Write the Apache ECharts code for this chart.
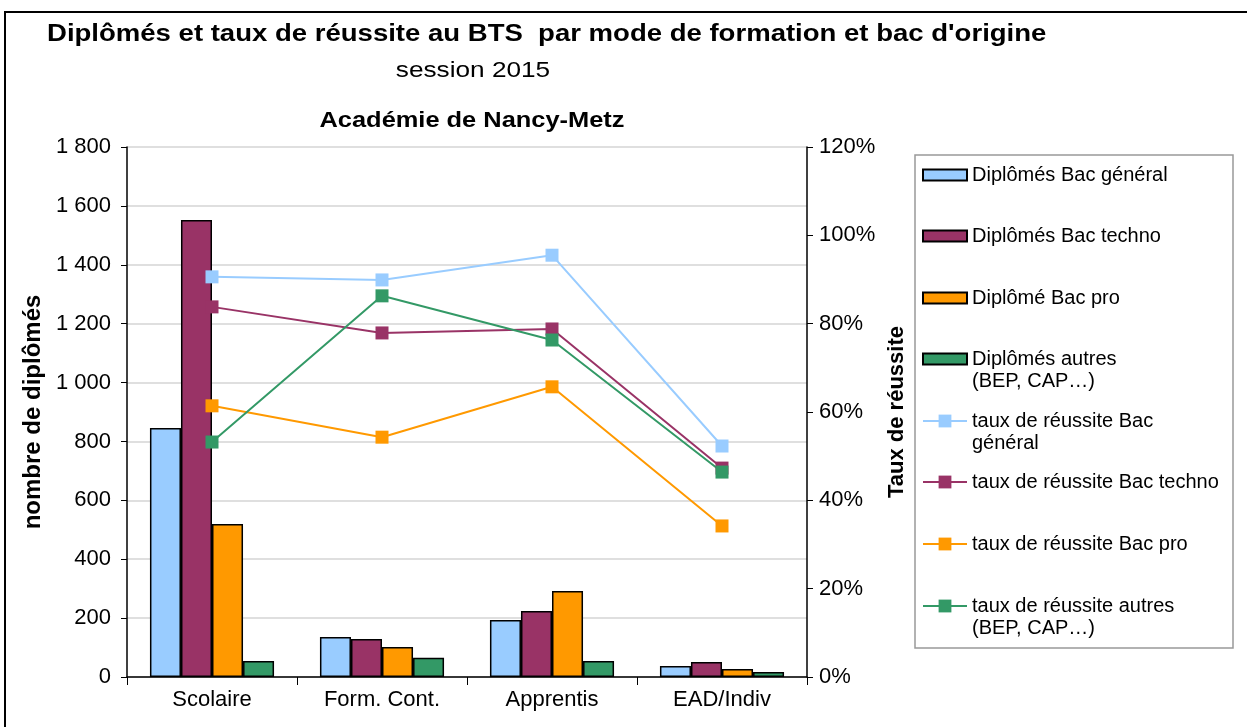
<!DOCTYPE html>
<html>
<head>
<meta charset="utf-8">
<script src="https://cdn.jsdelivr.net/npm/echarts@6/dist/echarts.min.js"></script>
<style>
  html, body { margin: 0; padding: 0; background: #fff; }
  #main { width: 1247px; height: 727px; }
</style>
</head>
<body>
<div id="main"></div>
<script>
var categories = ['Scolaire', 'Form. Cont.', 'Apprentis', 'EAD/Indiv'];

// nombre de diplômés
var diplBacGeneral = [846, 136, 194, 37];
var diplBacTechno = [1552, 129, 224, 51];
var diplBacPro = [520, 102, 292, 27];
var diplAutres = [54, 65, 54, 17];

// taux de réussite (%)
var tauxBacGeneral = [90.6, 89.9, 95.5, 52.3];
var tauxBacTechno = [83.8, 77.9, 78.8, 47.3];
var tauxBacPro = [61.4, 54.3, 65.7, 34.2];
var tauxAutres = [53.2, 86.3, 76.3, 46.4];

var barNames = ['Diplômés Bac général', 'Diplômés Bac techno', 'Diplômé Bac pro', 'Diplômés autres\n(BEP, CAP…)'];
var lineNames = ['taux de réussite Bac\ngénéral', 'taux de réussite Bac techno', 'taux de réussite Bac pro', 'taux de réussite autres\n(BEP, CAP…)'];
var colors = ['#99CCFF', '#993366', '#FF9900', '#339966'];

var font = 'Liberation Sans, Arial, sans-serif';
var myChart = echarts.init(document.getElementById('main'));

var barData = [diplBacGeneral, diplBacTechno, diplBacPro, diplAutres],
    lineData = [tauxBacGeneral, tauxBacTechno, tauxBacPro, tauxAutres],
    series = [];

barData.forEach(function (d, i) {
    series.push({
        name: barNames[i], type: 'bar', data: d, yAxisIndex: 0,
        barGap: '0%', barCategoryGap: '27%',
        itemStyle: { color: colors[i], borderColor: '#000', borderWidth: 1.5 }
    });
});
lineData.forEach(function (d, i) {
    series.push({
        name: lineNames[i], type: 'line', data: d, yAxisIndex: 1,
        symbol: 'rect', symbolSize: 13,
        lineStyle: { color: colors[i], width: 2 },
        itemStyle: { color: colors[i] }
    });
});

// one legend per item: icon centres as in the reference
var legendCenters = [175, 236, 298, 359, 421, 482, 544, 606];
var lh = 22;
var legends = barNames.concat(lineNames).map(function (n, i) {
    var twoLines = n.indexOf('\n') >= 0,
        isBar = i < 4;
    return {
        data: [isBar ? { name: n, icon: 'rect' } : n],
        left: 917,
        top: legendCenters[i] - (twoLines ? 1.5 * lh : lh / 2) - 5,
        itemWidth: 44, itemHeight: isBar ? 11 : 16,
        formatter: twoLines ? function (name) { return ' \n' + name; } : '{name}',
        textStyle: { fontFamily: font, fontSize: 20, color: '#000', lineHeight: lh },
        selectedMode: false
    };
});

var option = {
    animation: false,
    legend: legends,
    grid: { left: 127, right: 440, top: 147, bottom: 50, containLabel: false },
    xAxis: {
        type: 'category', data: categories,
        axisLine: { lineStyle: { color: '#000', width: 1.5 } },
        axisTick: { show: true, length: 8, lineStyle: { color: '#000' } },
        axisLabel: { fontFamily: font, fontSize: 22, color: '#000', margin: 12 }
    },
    yAxis: [
        {
            type: 'value', min: 0, max: 1800, interval: 200,
            name: 'nombre de diplômés', nameLocation: 'middle', nameGap: 76, nameRotate: 90,
            nameTextStyle: { fontFamily: font, fontSize: 24, fontWeight: 'bold', color: '#000' },
            axisLine: { show: true, lineStyle: { color: '#000', width: 1.5 } },
            axisTick: { show: true, length: 6, lineStyle: { color: '#000' } },
            splitLine: { lineStyle: { color: '#d4d4d4', width: 1.5 } },
            axisLabel: {
                fontFamily: font, fontSize: 22, color: '#000', margin: 16,
                formatter: function (v) { return v >= 1000 ? Math.floor(v / 1000) + ' ' + String(v % 1000).padStart(3, '0') : String(v); }
            }
        },
        {
            type: 'value', min: 0, max: 120, interval: 20,
            name: 'Taux de réussite', nameLocation: 'middle', nameGap: 71, nameRotate: 90,
            nameTextStyle: { fontFamily: font, fontSize: 22, fontWeight: 'bold', color: '#000' },
            axisLine: { show: true, lineStyle: { color: '#000', width: 1.5 } },
            axisTick: { show: true, length: 6, lineStyle: { color: '#000' } },
            splitLine: { show: false },
            axisLabel: { fontFamily: font, fontSize: 22, color: '#000', margin: 12, formatter: '{value}%' }
        }
    ],
    graphic: [
        { type: 'text', x: 47, y: 35, scaleX: 1.197, silent: true,
          style: { text: "Diplômés et taux de réussite au BTS  par mode de formation et bac d'origine",
                   font: 'bold 23px ' + font, fill: '#000', verticalAlign: 'middle', align: 'left' } },
        { type: 'text', x: 473, y: 71, scaleX: 1.19, silent: true,
          style: { text: 'session 2015', font: '22px ' + font, fill: '#000', verticalAlign: 'middle', align: 'center' } },
        { type: 'text', x: 472, y: 121, scaleX: 1.155, silent: true,
          style: { text: 'Académie de Nancy-Metz', font: 'bold 22px ' + font, fill: '#000', verticalAlign: 'middle', align: 'center' } },
        { type: 'rect', shape: { x: 5, y: 12, width: 1260, height: 740 }, silent: true, z: 100,
          style: { fill: 'none', stroke: '#000', lineWidth: 2 } },
        { type: 'rect', shape: { x: 915, y: 155, width: 318, height: 493 }, silent: true, z: -1,
          style: { fill: 'none', stroke: '#999', lineWidth: 1.5 } }
    ],
    series: series
};

myChart.setOption(option);
</script>
</body>
</html>
